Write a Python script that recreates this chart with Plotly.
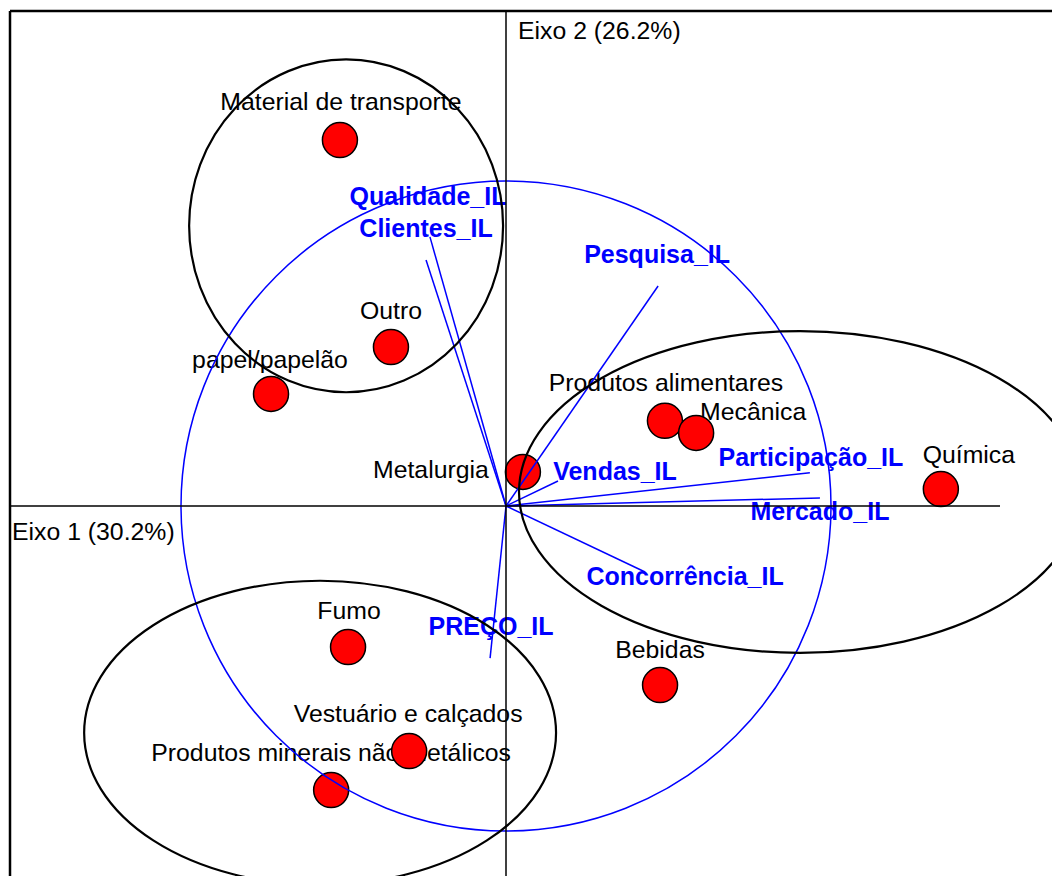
import plotly.graph_objects as go

# ---------------- data (units: correlation-circle radius = 1) ----------------
categories = ["Material de transporte", "Outro", "papel/papelão", "Produtos alimentares",
              "Mecânica", "Química", "Metalurgia", "Fumo", "Bebidas",
              "Vestuário e calçados", "Produtos minerais não metálicos"]
cat_x = [-0.511, -0.354, -0.723, 0.489, 0.585, 1.338, 0.052, -0.486, 0.474, -0.298, -0.538]
cat_y = [1.126, 0.489, 0.345, 0.262, 0.225, 0.052, 0.105, -0.434, -0.551, -0.754, -0.874]

variables = ["Qualidade_IL", "Clientes_IL", "Pesquisa_IL", "Vendas_IL", "Participação_IL",
             "Mercado_IL", "Concorrência_IL", "PREÇO_IL"]
var_x = [-0.234, -0.246, 0.468, 0.160, 0.935, 0.966, 0.428, -0.049]
var_y = [0.828, 0.757, 0.677, 0.077, 0.102, 0.025, -0.203, -0.468]

# group ellipses: centre and semi-axes
ell_cx = [-0.492, 0.905, -0.572]
ell_cy = [0.862, 0.043, -0.698]
ell_rx = [0.483, 0.865, 0.726]
ell_ry = [0.512, 0.495, 0.468]

axis1_label = "Eixo 1 (30.2%)"
axis2_label = "Eixo 2 (26.2%)"

# ---------------- layout / style ----------------
W, H = 1052, 876
PX = 325.0            # pixels per unit
OX, OY = 506, 506     # origin in pixels
xr = [-OX / PX, (W - OX) / PX]
yr = [-(H - OY) / PX, OY / PX]

# label offsets in pixels (dx right, dy up)
cat_off = [(1, 36), (0, 34), (-1, 32), (1, 36), (57, 19), (28, 32), (-92, 0),
           (1, 34), (0, 33), (-1, 35), (0, 35)]
var_off = [(-2, 38), (0, 29), (-1, 29), (57, 7), (1, 13), (0, -16), (40, -7), (1, 29)]

FONT = "Arial, Liberation Sans, sans-serif"

def px(v):
    return v / PX

fig = go.Figure()

# category labels (drawn first so markers cover them)
fig.add_trace(go.Scatter(
    x=[x + px(o[0]) for x, o in zip(cat_x, cat_off)],
    y=[y + px(o[1]) for y, o in zip(cat_y, cat_off)],
    mode="text", text=categories, textposition="middle center",
    textfont=dict(family=FONT, size=24.8, color="black"),
    hoverinfo="skip", showlegend=False))

# variable labels
fig.add_trace(go.Scatter(
    x=[x + px(o[0]) for x, o in zip(var_x, var_off)],
    y=[y + px(o[1]) for y, o in zip(var_y, var_off)],
    mode="text", text=variables, textposition="middle center",
    textfont=dict(family=FONT, size=25, color="#0000ff", weight="bold"),
    hoverinfo="skip", showlegend=False))

# category markers
fig.add_trace(go.Scatter(
    x=cat_x, y=cat_y, mode="markers",
    marker=dict(size=35, color="#ff0000", line=dict(color="black", width=1.5)),
    hoverinfo="text", text=categories, showlegend=False))

# variable vectors
vx, vy = [], []
for x, y in zip(var_x, var_y):
    vx += [0, x, None]
    vy += [0, y, None]
fig.add_trace(go.Scatter(x=vx, y=vy, mode="lines",
                         line=dict(color="#0000ff", width=1.5),
                         hoverinfo="skip", showlegend=False))

shapes = []
# correlation circle
shapes.append(dict(type="circle", xref="x", yref="y", x0=-1, y0=-1, x1=1, y1=1,
                   line=dict(color="#0000ff", width=1.5), layer="above"))
# group ellipses
for cx, cy, rx, ry in zip(ell_cx, ell_cy, ell_rx, ell_ry):
    shapes.append(dict(type="circle", xref="x", yref="y",
                       x0=cx - rx, x1=cx + rx, y0=cy - ry, y1=cy + ry,
                       line=dict(color="black", width=2.2), layer="above"))
# axes through origin
shapes.append(dict(type="line", xref="x", yref="y", x0=xr[0] + px(10), x1=xr[0] + px(1000),
                   y0=0, y1=0, line=dict(color="black", width=1.5), layer="above"))
shapes.append(dict(type="line", xref="x", yref="y", x0=0, x1=0,
                   y0=yr[1] - px(11), y1=yr[0], line=dict(color="black", width=1.5),
                   layer="above"))
# frame (top and left)
shapes.append(dict(type="line", xref="paper", yref="paper", x0=10 / W, x1=1,
                   y0=1 - 11 / H, y1=1 - 11 / H, line=dict(color="black", width=2.5)))
shapes.append(dict(type="line", xref="paper", yref="paper", x0=10 / W, x1=10 / W,
                   y0=0, y1=1 - 11 / H, line=dict(color="black", width=2.5)))

annotations = [
    dict(x=px(10), y=yr[1] - px(30), xref="x", yref="y", text=axis2_label,
         showarrow=False, xanchor="left", yanchor="middle",
         font=dict(family=FONT, size=24.8, color="black")),
    dict(x=xr[0] + px(10), y=-px(25), xref="x", yref="y", text=axis1_label,
         showarrow=False, xanchor="left", yanchor="middle",
         font=dict(family=FONT, size=24.8, color="black")),
]

fig.update_layout(
    width=W, height=H, margin=dict(l=0, r=0, t=0, b=0),
    paper_bgcolor="white", plot_bgcolor="white",
    xaxis=dict(range=xr, visible=False, fixedrange=True),
    yaxis=dict(range=yr, visible=False, fixedrange=True),
    shapes=shapes, annotations=annotations, showlegend=False,
)

fig.write_html("out.html", post_script="document.body.style.margin='0';",
               config={"displayModeBar": False})
